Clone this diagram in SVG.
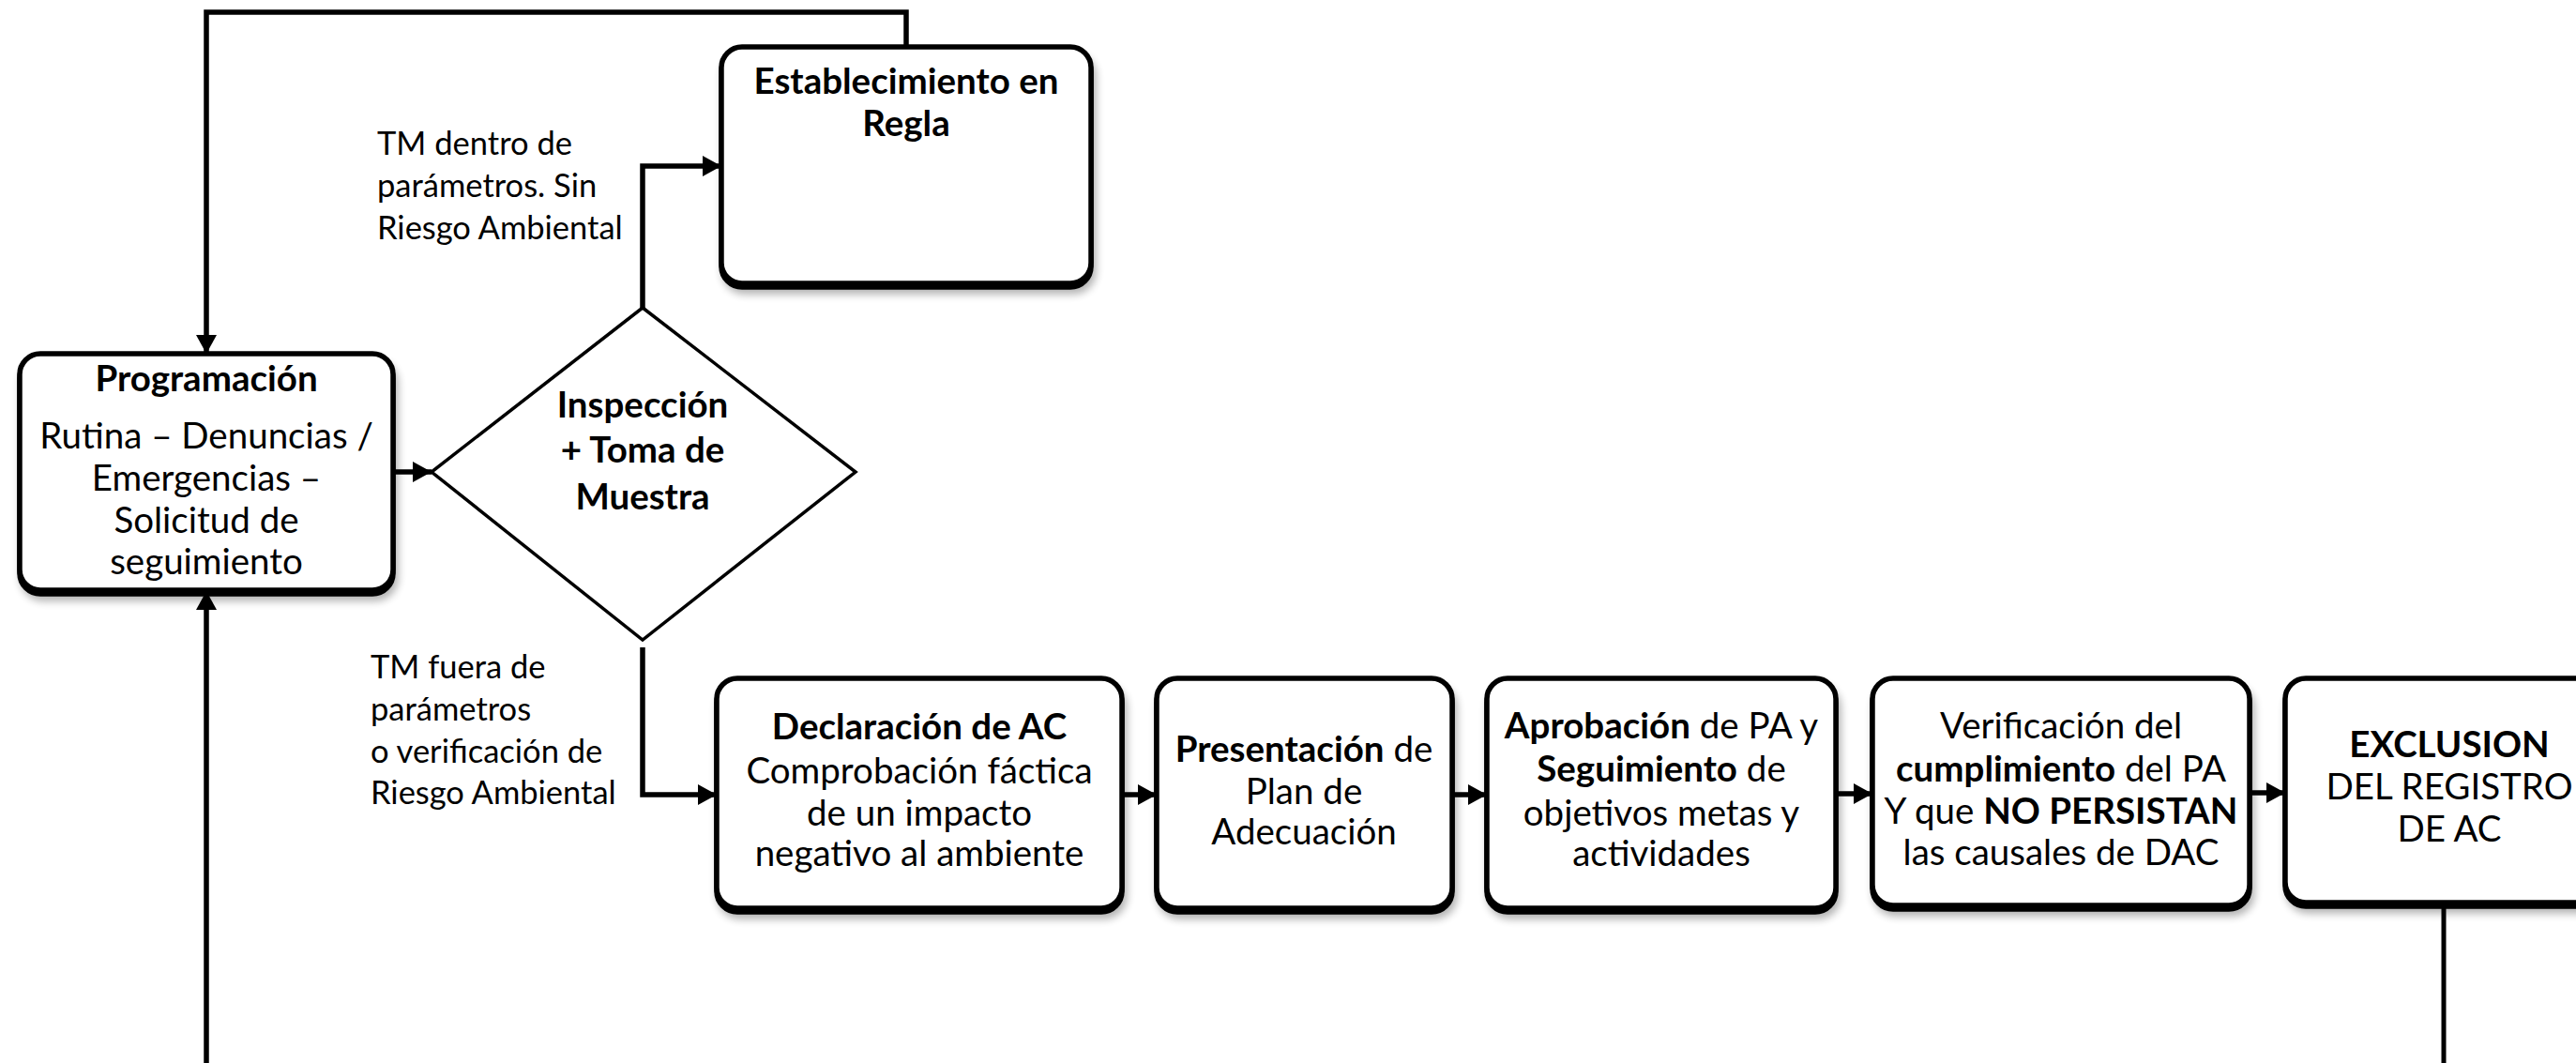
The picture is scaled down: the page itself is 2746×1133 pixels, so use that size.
<svg xmlns="http://www.w3.org/2000/svg" width="2746" height="1133" viewBox="0 0 2746 1133">
<defs>
<style>
.box{fill:#fff;stroke:#000;stroke-width:5.5;filter:url(#sh)}
.dia{fill:#fff;stroke:#000;stroke-width:3.5}
.t{font-family:Lato,"Open Sans","Liberation Sans",sans-serif;font-size:38.5px;fill:#000;text-anchor:middle}
.lb{font-family:Lato,"Open Sans","Liberation Sans",sans-serif;font-size:34.5px;fill:#000}
.b{font-weight:bold}
.c{fill:none;stroke:#000;stroke-width:5}
.ca{fill:none;stroke:#000;stroke-width:5.5;marker-end:url(#ah)}
</style>
<marker id="ah" markerUnits="userSpaceOnUse" markerWidth="22" markerHeight="24" refX="20" refY="11" orient="auto">
<path d="M0,0 L20,11 L0,22 z" fill="#000"/>
</marker>
<filter id="sh" x="-5%" y="-5%" width="115%" height="120%">
<feOffset in="SourceAlpha" dx="0" dy="4" result="o"/>
<feGaussianBlur in="SourceAlpha" stdDeviation="4" result="b"/>
<feOffset in="b" dx="3" dy="9" result="bo"/>
<feComponentTransfer in="bo" result="bg"><feFuncA type="linear" slope="0.3"/></feComponentTransfer>
<feMerge><feMergeNode in="bg"/><feMergeNode in="o"/><feMergeNode in="SourceGraphic"/></feMerge>
</filter>
</defs>
<rect width="2746" height="1133" fill="#fff"/>

<g id="connectors">
<path class="ca" d="M966,50 V13 H220 V377"/>
<path class="ca" d="M420,503 H460"/>
<path class="ca" d="M685,328 V177 H769"/>
<path class="ca" d="M685,690 V847 H764"/>
<path class="ca" d="M1196,847 H1233"/>
<path class="ca" d="M1548,847 H1585"/>
<path class="ca" d="M1957,846 H1996"/>
<path class="ca" d="M2398,845 H2436"/>
<path class="c" d="M2605,962 V1133"/>
<path class="ca" d="M220,1133 V630"/>
</g>

<g id="label-dentro">
<text class="lb" x="402" y="165">TM dentro de</text>
<text class="lb" x="402" y="210">parámetros. Sin</text>
<text class="lb" x="402" y="255">Riesgo Ambiental</text>
</g>
<g id="label-fuera">
<text class="lb" x="395" y="723">TM fuera de</text>
<text class="lb" x="395" y="768">parámetros</text>
<text class="lb" x="395" y="813">o verificación de</text>
<text class="lb" x="395" y="857">Riesgo Ambiental</text>
</g>

<g id="n-establecimiento">
<rect class="box" x="769" y="50" width="394" height="252" rx="22"/>
<text class="t b" x="966" y="100">Establecimiento en</text>
<text class="t b" x="966" y="145">Regla</text>
</g>

<g id="n-programacion">
<rect class="box" x="21" y="377" width="398" height="252" rx="22"/>
<text class="t b" x="220" y="417">Programación</text>
<text class="t" x="220" y="478">Rutina – Denuncias /</text>
<text class="t" x="220" y="523">Emergencias –</text>
<text class="t" x="220" y="568">Solicitud de</text>
<text class="t" x="220" y="612">seguimiento</text>
</g>

<g id="n-inspeccion">
<polygon class="dia" points="685,328 912,503 685,682 460,503"/>
<text class="t b" x="685" y="445">Inspección</text>
<text class="t b" x="685" y="493">+ Toma de</text>
<text class="t b" x="685" y="543">Muestra</text>
</g>

<g id="n-declaracion">
<rect class="box" x="764" y="723" width="432" height="245" rx="22"/>
<text class="t b" x="980" y="788">Declaración de AC</text>
<text class="t" x="980" y="835">Comprobación fáctica</text>
<text class="t" x="980" y="880">de un impacto</text>
<text class="t" x="980" y="923">negativo al ambiente</text>
</g>

<g id="n-presentacion">
<rect class="box" x="1233" y="723" width="315" height="245" rx="22"/>
<text class="t" x="1390" y="812"><tspan class="b">Presentación</tspan> de</text>
<text class="t" x="1390" y="857">Plan de</text>
<text class="t" x="1390" y="900">Adecuación</text>
</g>

<g id="n-aprobacion">
<rect class="box" x="1585" y="723" width="372" height="245" rx="22"/>
<text class="t" x="1771" y="787"><tspan class="b">Aprobación</tspan> de PA y</text>
<text class="t" x="1771" y="833"><tspan class="b">Seguimiento</tspan> de</text>
<text class="t" x="1771" y="880">objetivos metas y</text>
<text class="t" x="1771" y="923">actividades</text>
</g>

<g id="n-verificacion">
<rect class="box" x="1996" y="723" width="402" height="242" rx="22"/>
<text class="t" x="2197" y="787">Verificación del</text>
<text class="t" x="2197" y="833"><tspan class="b">cumplimiento</tspan> del PA</text>
<text class="t" x="2197" y="878">Y que <tspan class="b">NO PERSISTAN</tspan></text>
<text class="t" x="2197" y="922">las causales de DAC</text>
</g>

<g id="n-exclusion">
<rect class="box" x="2436" y="723" width="400" height="239" rx="22"/>
<text class="t b" x="2611" y="807">EXCLUSION</text>
<text class="t" x="2611" y="852">DEL REGISTRO</text>
<text class="t" x="2611" y="897">DE AC</text>
</g>
</svg>
